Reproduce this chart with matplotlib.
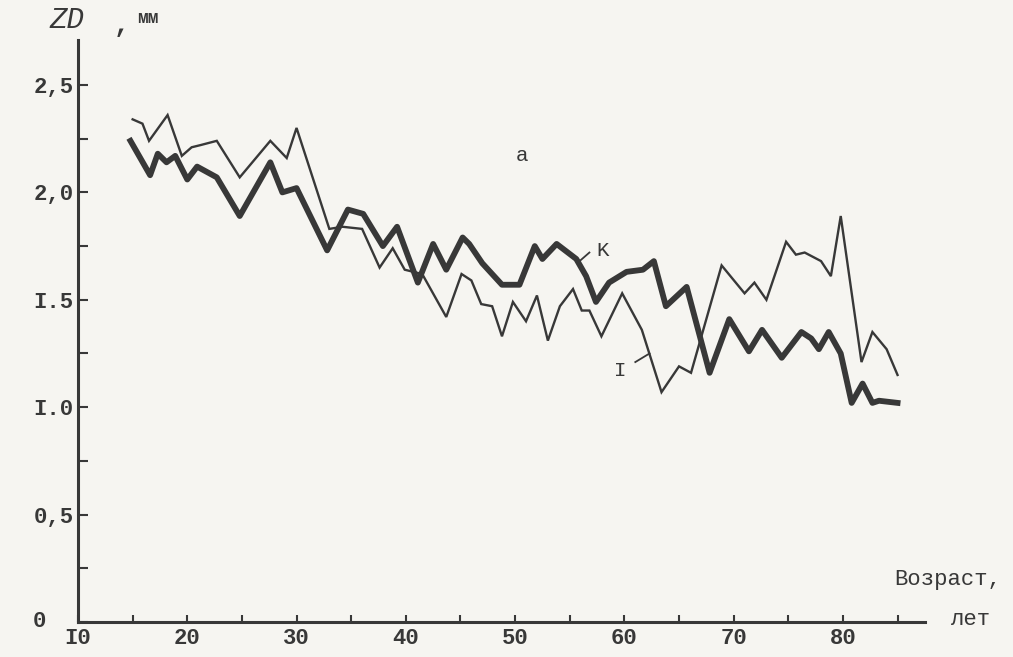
import numpy as np
import matplotlib.pyplot as plt
from matplotlib.ticker import MultipleLocator, FixedLocator, FixedFormatter

# кривая I (тонкая)
age_i = [15.0, 15.9, 16.5, 18.2, 19.5, 20.4, 21.2, 22.7, 24.8, 27.6, 29.1, 30.0,
         33.0, 34.2, 36.0, 37.6, 38.8, 39.9, 41.5, 43.7, 45.1, 46.0, 46.9, 47.9,
         48.8, 49.8, 51.0, 52.0, 53.0, 54.1, 55.3, 56.1, 56.8, 57.9, 59.8, 61.6,
         63.4, 65.0, 66.1, 68.9, 71.0, 71.9, 73.0, 74.8, 75.7, 76.5, 78.0, 78.9,
         79.8, 81.7, 82.7, 84.0, 85.0]
zd_i = [2.34, 2.32, 2.24, 2.36, 2.17, 2.21, 2.22, 2.24, 2.07, 2.24, 2.16, 2.30,
        1.83, 1.84, 1.83, 1.65, 1.74, 1.64, 1.62, 1.42, 1.62, 1.59, 1.48, 1.47,
        1.33, 1.49, 1.40, 1.52, 1.31, 1.47, 1.55, 1.45, 1.45, 1.33, 1.53, 1.36,
        1.07, 1.19, 1.16, 1.66, 1.53, 1.58, 1.50, 1.77, 1.71, 1.72, 1.68, 1.61,
        1.89, 1.21, 1.35, 1.27, 1.15]

# кривая K (толстая)
age_k = [14.8, 16.6, 17.3, 18.1, 18.9, 20.0, 20.9, 22.7, 24.8, 27.6, 28.7, 30.0,
         32.8, 34.7, 36.1, 37.9, 39.2, 41.1, 42.5, 43.7, 45.2, 45.8, 47.0, 48.8,
         50.4, 51.8, 52.5, 53.8, 55.6, 56.5, 57.4, 58.6, 60.2, 61.7, 62.7, 63.8,
         65.7, 67.8, 69.6, 71.4, 72.6, 74.4, 76.2, 77.1, 77.8, 78.7, 79.8, 80.8,
         81.8, 82.7, 83.3, 85.0]
zd_k = [2.24, 2.08, 2.18, 2.14, 2.17, 2.06, 2.12, 2.07, 1.89, 2.14, 2.00, 2.02,
        1.73, 1.92, 1.90, 1.75, 1.84, 1.58, 1.76, 1.64, 1.79, 1.76, 1.67, 1.57,
        1.57, 1.75, 1.69, 1.76, 1.69, 1.61, 1.49, 1.58, 1.63, 1.64, 1.68, 1.47,
        1.56, 1.16, 1.41, 1.26, 1.36, 1.23, 1.35, 1.32, 1.27, 1.35, 1.25, 1.02,
        1.11, 1.02, 1.03, 1.02]

x_major = [10, 20, 30, 40, 50, 60, 70, 80]
x_labels = ["I0", "20", "30", "40", "50", "60", "70", "80"]
y_major = [0.5, 1.0, 1.5, 2.0, 2.5]
y_labels = ["0,5", "I.0", "I.5", "2,0", "2,5"]

ink = "#383838"
paper = "#f6f5f1"
mono = ["Liberation Mono", "DejaVu Sans Mono"]

fig = plt.figure(figsize=(10.13, 6.57), dpi=100, facecolor=paper)
ax = fig.add_axes([0.077, 0.0533, 0.836, 0.886], facecolor=paper)

ax.plot(age_i, zd_i, color=ink, lw=1.7, solid_joinstyle="miter")
ax.plot(age_k, zd_k, color=ink, lw=4.2, solid_joinstyle="round")

ax.set_xlim(10, 87.5)
ax.set_ylim(0, 2.71)

for s in ["top", "right"]:
    ax.spines[s].set_visible(False)
for s in ["left", "bottom"]:
    ax.spines[s].set_color(ink)
    ax.spines[s].set_linewidth(2.2)

ax.xaxis.set_major_locator(FixedLocator(x_major))
ax.xaxis.set_major_formatter(FixedFormatter(x_labels))
ax.xaxis.set_minor_locator(FixedLocator([15, 25, 35, 45, 55, 65, 75, 85]))
ax.yaxis.set_major_locator(FixedLocator(y_major))
ax.yaxis.set_major_formatter(FixedFormatter(y_labels))
ax.yaxis.set_minor_locator(MultipleLocator(0.25))

ax.tick_params(which="both", direction="in", color=ink, width=1.5, length=7)
ax.tick_params(axis="x", which="both", length=5, pad=4)
ax.tick_params(axis="y", pad=3)
for lab in ax.get_xticklabels() + ax.get_yticklabels():
    lab.set_family(mono)
    lab.set_fontsize(16)
    lab.set_fontweight("bold")
    lab.set_color(ink)

txt = dict(color=ink, family=mono)
ax.text(-0.045, 0.0, "0", transform=ax.transAxes, fontsize=16, fontweight="bold",
        ha="center", va="center", **txt)
fig.text(0.049, 0.970, "ZD", fontsize=21, style="italic", ha="left", va="center", **txt)
fig.text(0.112, 0.962, ",", fontsize=19, fontweight="bold", ha="left", va="center", **txt)
fig.text(0.135, 0.972, "мм", fontsize=13, fontweight="bold", ha="left", va="center", **txt)
fig.text(0.883, 0.118, "Возраст,", fontsize=16, ha="left", va="center", **txt)
fig.text(0.939, 0.057, "лет", fontsize=16, ha="left", va="center", **txt)

ax.text(50.6, 2.17, "a", fontsize=15, ha="center", va="center", **txt)
ax.text(58.0, 1.73, "K", fontsize=15, ha="center", va="center", **txt)
ax.plot([55.9, 56.8], [1.68, 1.72], color=ink, lw=1.3)
ax.text(59.6, 1.17, "I", fontsize=15, ha="center", va="center", **txt)
ax.plot([61.0, 62.3], [1.21, 1.25], color=ink, lw=1.3)

fig.savefig("out.png", dpi=100, facecolor=paper)
